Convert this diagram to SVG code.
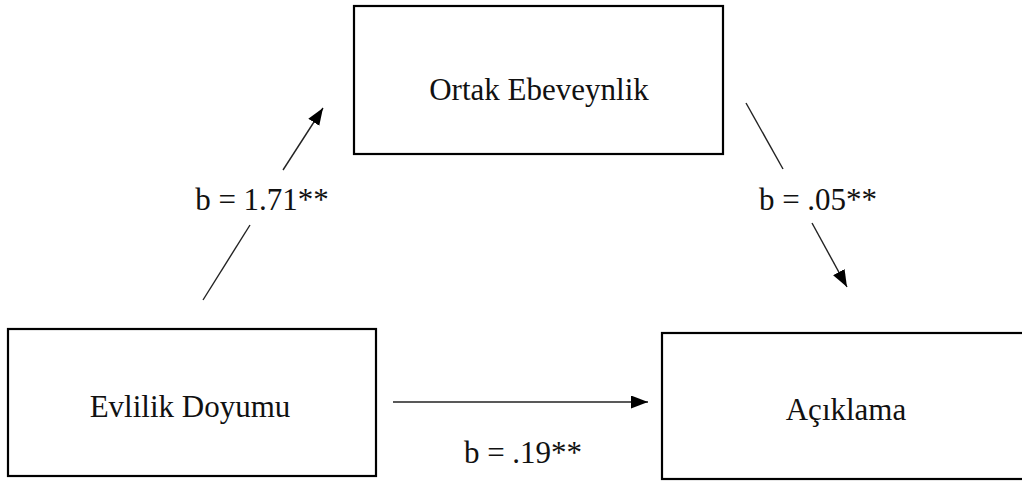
<svg xmlns="http://www.w3.org/2000/svg" width="1022" height="481" viewBox="0 0 1022 481">
  <style>
    .box { fill: #ffffff; stroke: #000000; stroke-width: 2.2; }
    .lbl { font-family: "Liberation Serif", "Times New Roman", serif; font-size: 31px; fill: #111111; text-anchor: middle; }
    .edge { stroke: #222222; stroke-width: 1.4; fill: none; }
  </style>
  <defs>
    <marker id="arrow" markerUnits="userSpaceOnUse" markerWidth="18" markerHeight="14" refX="17" refY="6.5" orient="auto">
      <path d="M0,0 L17,6.5 L0,13 z" fill="#000000"/>
    </marker>
  </defs>
  <rect width="1022" height="481" fill="#ffffff"/>

  <g id="node-ortak">
    <rect class="box" x="354" y="6" width="369" height="148"/>
    <text class="lbl" x="539" y="100">Ortak Ebeveynlik</text>
  </g>
  <g id="node-evlilik">
    <rect class="box" x="8" y="329" width="368" height="147"/>
    <text class="lbl" x="190" y="417">Evlilik Doyumu</text>
  </g>
  <g id="node-aciklama">
    <rect class="box" x="662" y="333" width="380" height="146"/>
    <text class="lbl" x="846" y="420">Açıklama</text>
  </g>

  <g id="connectors">
    <line class="edge" x1="203" y1="300" x2="250" y2="225"/>
    <line class="edge" x1="283" y1="170" x2="323" y2="108" marker-end="url(#arrow)"/>
    <line class="edge" x1="746" y1="103" x2="783" y2="169"/>
    <line class="edge" x1="812" y1="223" x2="847" y2="287" marker-end="url(#arrow)"/>
    <line class="edge" x1="393" y1="402" x2="648" y2="402" marker-end="url(#arrow)"/>
    <text class="lbl" x="262" y="210">b = 1.71**</text>
    <text class="lbl" x="818" y="210">b = .05**</text>
    <text class="lbl" x="523" y="463">b = .19**</text>
  </g>
</svg>
